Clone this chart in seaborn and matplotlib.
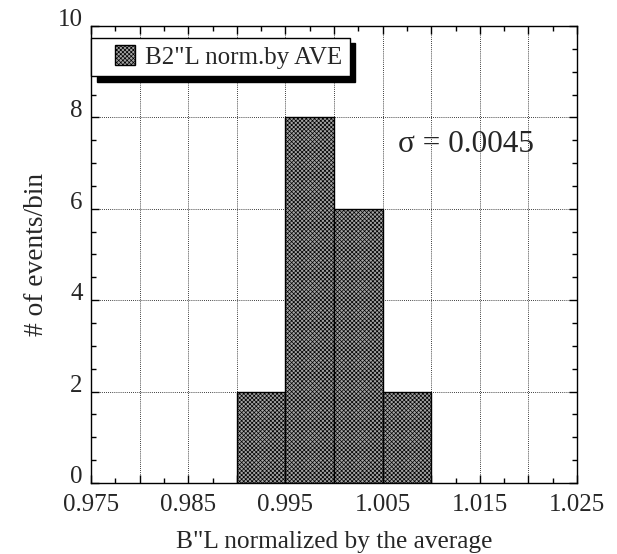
"""Histogram of B"L normalized by the average."""

import numpy as np
import matplotlib
matplotlib.use("Agg")
import matplotlib.pyplot as plt
import seaborn as sns
from matplotlib.ticker import MultipleLocator, FuncFormatter
from matplotlib.patches import Patch, Rectangle
from matplotlib.legend_handler import HandlerPatch

# data
bin_edges = [0.990, 0.995, 1.000, 1.005, 1.010]
counts = [2, 8, 6, 2]
x_tick_labels = ["0.975", "0.985", "0.995", "1.005", "1.015", "1.025"]
legend_label = 'B2"L norm.by AVE'
sigma_text = "σ = 0.0045"

sns.set_theme(style="white")
plt.rcParams["font.family"] = ["Liberation Serif", "DejaVu Serif"]
plt.rcParams["hatch.linewidth"] = 0.5
plt.rcParams["hatch.color"] = "#1a1a1a"

centers = [(a + b) / 2 for a, b in zip(bin_edges[:-1], bin_edges[1:])]
bar_color = "#a4a4a4"
bar_hatch = "xxxxxxxx"

fig = plt.figure(figsize=(6.17, 5.54), dpi=100)
ax = fig.add_axes([0.1475, 0.1282, 0.7877, 0.8249])

sns.histplot(x=centers, weights=counts, bins=bin_edges, ax=ax,
             color=bar_color, alpha=1, edgecolor="black", linewidth=1.0)
for p in ax.patches:
    p.set_hatch(bar_hatch)

ax.set_xlim(0.975, 1.025)
ax.set_ylim(0, 10)

# major every 0.005 (labels on every other), minor every 0.0025
ax.xaxis.set_major_locator(MultipleLocator(0.005))
ax.xaxis.set_minor_locator(MultipleLocator(0.0025))
label_pos = [float(s) for s in x_tick_labels]
ax.xaxis.set_major_formatter(FuncFormatter(
    lambda v, pos: next((s for s, p in zip(x_tick_labels, label_pos) if abs(v - p) < 1e-6), "")))
ax.yaxis.set_major_locator(MultipleLocator(2))
ax.yaxis.set_minor_locator(MultipleLocator(0.5))

ax.tick_params(which="both", direction="in", top=True, right=True,
               bottom=True, left=True, color="black", labelsize=18)
ax.tick_params(which="major", length=6, width=1)
ax.tick_params(which="minor", length=3.5, width=1)
ax.tick_params(axis="x", pad=8)
ax.tick_params(axis="y", pad=6)
plt.setp(ax.get_yticklabels(), va="baseline")

ax.grid(True, which="major", linestyle=(0, (1, 1.5)), color="black", linewidth=0.6)
ax.set_axisbelow(True)
for s in ax.spines.values():
    s.set_color("black")
    s.set_linewidth(1.0)

ax.set_xlabel('B"L normalized by the average', fontsize=18.3, labelpad=11)
ax.set_ylabel("# of events/bin", fontsize=19.7, labelpad=6)

ax.text(0.631, 0.74, sigma_text, transform=ax.transAxes, fontsize=22.5, va="center")


def square_patch(legend, orig_handle, xdescent, ydescent, width, height, fontsize):
    # square swatch pushed to the right end of the handle box
    side = height
    return Rectangle((-xdescent + width - side, -ydescent), side, side)


handle = Patch(facecolor=bar_color, edgecolor="black", hatch=bar_hatch, linewidth=1)
leg = ax.legend([handle], [legend_label], loc="upper left",
                bbox_to_anchor=(0.0, 0.974), borderaxespad=0,
                fancybox=False, shadow={"color": "black", "alpha": 1, "ox": 4, "oy": -4},
                framealpha=1, edgecolor="black", fontsize=18,
                handlelength=1.45, handleheight=0.84, handletextpad=0.42,
                borderpad=0.3,
                handler_map={Patch: HandlerPatch(patch_func=square_patch)})
leg.get_frame().set_linewidth(1.0)

fig.savefig("out.png", dpi=100)
plt.close(fig)
